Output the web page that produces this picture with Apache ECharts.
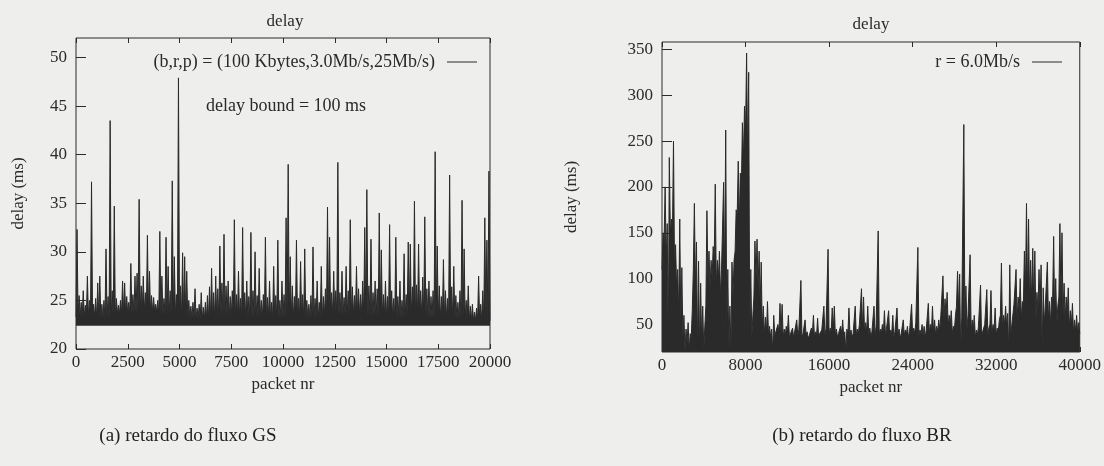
<!DOCTYPE html>
<html>
<head>
<meta charset="utf-8">
<title>delay</title>
<script src="https://cdn.jsdelivr.net/npm/echarts@6/dist/echarts.min.js"></script>
<style>
    html, body { margin: 0; padding: 0; background: #eeeeec; }
    #chart { width: 1104px; height: 466px; }
</style>
</head>
<body>
<div id="chart"></div>
<script>
    // (a) GS flow: highest delay in each bin of 100 packets
    var gsBin = 100;
    var gsPeak = [
        32.3, 25.5, 24.8, 26, 24.5, 27.5, 25, 37.2, 24.6, 25.2,
        26.8, 27.5, 24.6, 25, 30.3, 25.4, 43.5, 26, 34.7, 25.2,
        24.5, 25, 27, 26.8, 25.4, 24.8, 28.8, 25.6, 27.5, 27.8,
        35.4, 26.5, 27.5, 25.8, 31.7, 28, 25.5, 25.3, 24.6, 25,
        32.1, 27.5, 25.2, 31.5, 28.5, 26, 37.3, 29.5, 25.6, 47.9,
        26.5, 29.9, 29.5, 28, 25, 24.4, 24.8, 26.2, 24.2, 24.6,
        25.8, 24.3, 24.8, 25.5, 26.4, 28.3, 25.8, 27.5, 26.2, 30.6,
        26.8, 31.8, 26.5, 27, 25.4, 26, 33.3, 25.6, 28, 25.2,
        32.5, 25.8, 27, 25.4, 32, 26, 30, 25.5, 28.3, 25,
        25.6, 31.5, 25.3, 27, 24.8, 28.5, 25.5, 31.2, 25, 27,
        25.6, 33.5, 39, 29.5, 26.5, 25.4, 31.2, 25.2, 29, 25.6,
        30.3, 25, 24.6, 25.5, 30.5, 25.2, 27, 24.8, 28.5, 25.4,
        26.2, 34.6, 31.5, 25.8, 28, 26, 39.2, 25.8, 28, 25.3,
        28.5, 26, 33.3, 26.4, 25.5, 28.5, 26.2, 25.6, 27, 32.5,
        36.4, 26.5, 31.3, 25.8, 27, 26.2, 34, 30.2, 25.6, 27,
        25.4, 32.8, 26, 25.2, 31.5, 25.4, 27, 25, 29.8, 25.6,
        31, 30.8, 26.4, 35.2, 26.6, 30.8, 26, 27.4, 33.6, 26.2,
        27, 25.4, 26, 40.3, 30.6, 26.5, 25.4, 29.2, 26, 25.2,
        37.9, 26.4, 28.5, 25.5, 24.8, 26, 35.3, 30.3, 25, 26.5,
        24.4, 24.6, 23.8, 24.2, 27.5, 24.6, 26, 33.5, 31.2, 38.3
    ];
    // top of the solid dark band, one value per 1000 packets
    var gsBand = [23.3, 23.1, 23.6, 23.8, 23.5, 23.1, 23.0, 23.3, 23.2, 23.1,
                  23.2, 23.1, 23.4, 23.5, 23.3, 23.2, 23.4, 23.1, 23.0, 22.9];
    var gsFloor = 22.4;
    var gsXTicks = [0, 2500, 5000, 7500, 10000, 12500, 15000, 17500, 20000];
    var gsYTicks = [20, 25, 30, 35, 40, 45, 50];

    // (b) BR flow: highest delay and top of the dense band, bins of 200 packets
    var brBin = 200;
    var brPeak = [
        150, 200, 160, 232, 165, 250, 137, 110, 165, 112,
        60, 45, 52, 40, 66, 182, 140, 119, 95, 70,
        48, 174, 130, 120, 135, 203, 120, 130, 110, 205,
        262, 110, 70, 118, 120, 175, 228, 215, 270, 288,
        346, 325, 110, 60, 141, 143, 130, 118, 70, 58,
        75, 48, 45, 60, 42, 50, 73, 72, 45, 48,
        60, 40, 46, 42, 55, 44, 98, 40, 55, 42,
        38, 46, 60, 42, 57, 40, 44, 70, 45, 132,
        46, 68, 70, 45, 40, 48, 55, 42, 45, 68,
        44, 40, 70, 45, 50, 89, 80, 52, 70, 46,
        42, 70, 48, 152, 45, 50, 65, 46, 65, 44,
        60, 42, 68, 45, 40, 55, 44, 48, 42, 72,
        46, 52, 134, 44, 50, 48, 44, 73, 50, 70,
        55, 48, 55, 60, 103, 78, 85, 60, 65, 48,
        60, 108, 105, 58, 268, 92, 60, 126, 55, 60,
        44, 48, 93, 42, 50, 88, 46, 87, 50, 68,
        46, 55, 117, 60, 70, 62, 115, 50, 72, 110,
        80, 100, 75, 130, 182, 165, 120, 133, 130, 85,
        110, 115, 90, 70, 118, 75, 80, 146, 100, 70,
        160, 150, 95, 80, 90, 65, 73, 55, 60, 52
    ];
    var brBand = [
        110, 140, 120, 20, 150, 150, 110, 90, 60, 50,
        35, 20, 30, 22, 35, 110, 90, 20, 20, 30,
        22, 70, 100, 90, 100, 120, 90, 100, 80, 110,
        100, 45, 22, 22, 80, 130, 170, 160, 200, 230,
        260, 230, 40, 35, 80, 100, 90, 70, 45, 38,
        40, 38, 36, 20, 38, 40, 42, 40, 36, 38,
        40, 36, 38, 36, 40, 38, 42, 36, 40, 38,
        35, 38, 40, 36, 38, 35, 38, 42, 38, 44,
        38, 42, 44, 38, 36, 38, 40, 36, 20, 40,
        38, 36, 42, 38, 40, 48, 45, 40, 42, 38,
        36, 42, 38, 50, 38, 40, 42, 38, 44, 38,
        40, 36, 42, 38, 35, 40, 38, 40, 36, 44,
        38, 40, 50, 38, 40, 38, 36, 44, 40, 42,
        40, 38, 42, 44, 60, 55, 60, 48, 50, 40,
        45, 70, 65, 20, 60, 55, 45, 60, 42, 44,
        36, 38, 50, 36, 40, 48, 38, 50, 40, 44,
        38, 42, 60, 45, 50, 48, 20, 40, 50, 70,
        55, 65, 55, 70, 85, 80, 70, 75, 70, 55,
        65, 70, 20, 50, 70, 55, 50, 75, 60, 50,
        80, 75, 60, 55, 60, 45, 50, 40, 42, 40
    ];
    var brXTicks = [0, 8000, 16000, 24000, 32000, 40000];
    var brYTicks = [50, 100, 150, 200, 250, 300, 350];

    var ink = '#2a2a2a';
    var font = 'Liberation Serif';
    var tickLen = 5;

    // each bin: rise from the band to its peak and fall back (saw-tooth trace)
    function trace(peak, band, bin, bandEvery) {
        var pts = [];
        for (var i = 0; i < peak.length; i++) {
            var b = band[Math.floor(i / bandEvery)];
            pts.push([i * bin, b], [i * bin + bin / 2, peak[i]]);
        }
        pts.push([peak.length * bin, band[band.length - 1]]);
        return pts;
    }

    function plain(v) { return String(v); }

    function xAxes(grid, ticks) {
        var base = {
            gridIndex: grid, type: 'value',
            min: ticks[0], max: ticks[ticks.length - 1], interval: ticks[1] - ticks[0],
            axisLine: {show: false}, splitLine: {show: false},
            axisTick: {inside: true, length: tickLen, lineStyle: {color: ink}}
        };
        return [
            Object.assign({}, base, {
                position: 'bottom',
                name: 'packet nr', nameLocation: 'middle', nameGap: 19,
                nameTextStyle: {fontFamily: font, fontSize: 17, color: ink},
                axisLabel: {margin: 5, formatter: plain, fontFamily: font, fontSize: 17, color: ink}
            }),
            Object.assign({}, base, {position: 'top', axisLabel: {show: false}})
        ];
    }

    // custom tick values are drawn outward, so the axis is pulled into the
    // plot by one tick length to make the ticks end on the frame
    function yAxes(grid, min, max, ticks, gap) {
        var base = {
            gridIndex: grid, type: 'value', min: min, max: max, offset: -tickLen,
            axisLine: {show: false}, splitLine: {show: false},
            axisTick: {length: tickLen, customValues: ticks, lineStyle: {color: ink}}
        };
        return [
            Object.assign({}, base, {
                position: 'left',
                name: 'delay (ms)', nameLocation: 'middle', nameRotate: 90, nameGap: gap + tickLen,
                nameTextStyle: {fontFamily: font, fontSize: 17, color: ink},
                axisLabel: {margin: 9 + tickLen, customValues: ticks, formatter: plain, fontFamily: font, fontSize: 17, color: ink}
            }),
            Object.assign({}, base, {position: 'right', axisLabel: {show: false}})
        ];
    }

    var chart = echarts.init(document.getElementById('chart'), null, {renderer: 'canvas'});

    var titleStyle = {fontFamily: font, fontSize: 17, fontWeight: 'normal', color: ink};
    var noteStyle = {fontFamily: font, fontSize: 18, fontWeight: 'normal', color: ink};
    var capStyle = {fontFamily: font, fontSize: 19, fontWeight: 'normal', color: '#222'};
    var legendBase = {
        selectedMode: false, orient: 'horizontal', align: 'right',
        icon: 'rect', itemWidth: 30, itemHeight: 1, padding: 0,
        textStyle: {fontFamily: font, fontSize: 18, color: ink, padding: [0, 7, 0, 0]}
    };

    chart.setOption({
        backgroundColor: '#eeeeec',
        animation: false,
        title: [
            {text: 'delay', left: 285, top: 13, textAlign: 'center', padding: 0, textStyle: titleStyle},
            {text: 'delay', left: 871, top: 16, textAlign: 'center', padding: 0, textStyle: titleStyle},
            {text: 'delay bound = 100 ms', left: 286, top: 97, textAlign: 'center', padding: 0, textStyle: noteStyle},
            {text: '(a) retardo do fluxo GS', left: 188, top: 427, textAlign: 'center', padding: 0, textStyle: capStyle},
            {text: '(b) retardo do fluxo BR', left: 862, top: 427, textAlign: 'center', padding: 0, textStyle: capStyle}
        ],
        legend: [
            Object.assign({}, legendBase, {data: ['(b,r,p) = (100 Kbytes,3.0Mb/s,25Mb/s)'], right: 627, top: 53}),
            Object.assign({}, legendBase, {data: ['r = 6.0Mb/s'], right: 42, top: 53})
        ],
        grid: [
            {left: 76, top: 38, width: 414, height: 311, show: true, borderColor: ink, borderWidth: 1, backgroundColor: 'transparent'},
            {left: 662, top: 42, width: 418, height: 310, show: true, borderColor: ink, borderWidth: 1, backgroundColor: 'transparent'}
        ],
        xAxis: xAxes(0, gsXTicks).concat(xAxes(1, brXTicks)),
        yAxis: yAxes(0, 20, 52, gsYTicks, 49).concat(yAxes(1, 20, 358, brYTicks, 82)),
        series: [
            {
                name: '(b,r,p) = (100 Kbytes,3.0Mb/s,25Mb/s)',
                type: 'line', xAxisIndex: 0, yAxisIndex: 0,
                data: trace(gsPeak, gsBand, gsBin, 10),
                showSymbol: false, symbol: 'none',
                lineStyle: {color: ink, width: 1},
                itemStyle: {color: ink},
                areaStyle: {color: ink, opacity: 1, origin: gsFloor}
            },
            {
                name: 'r = 6.0Mb/s',
                type: 'line', xAxisIndex: 2, yAxisIndex: 2,
                data: trace(brPeak, brBand, brBin, 1),
                showSymbol: false, symbol: 'none',
                lineStyle: {color: ink, width: 1},
                itemStyle: {color: ink},
                areaStyle: {color: ink, opacity: 1, origin: 'start'}
            }
        ]
    });
</script>
</body>
</html>
